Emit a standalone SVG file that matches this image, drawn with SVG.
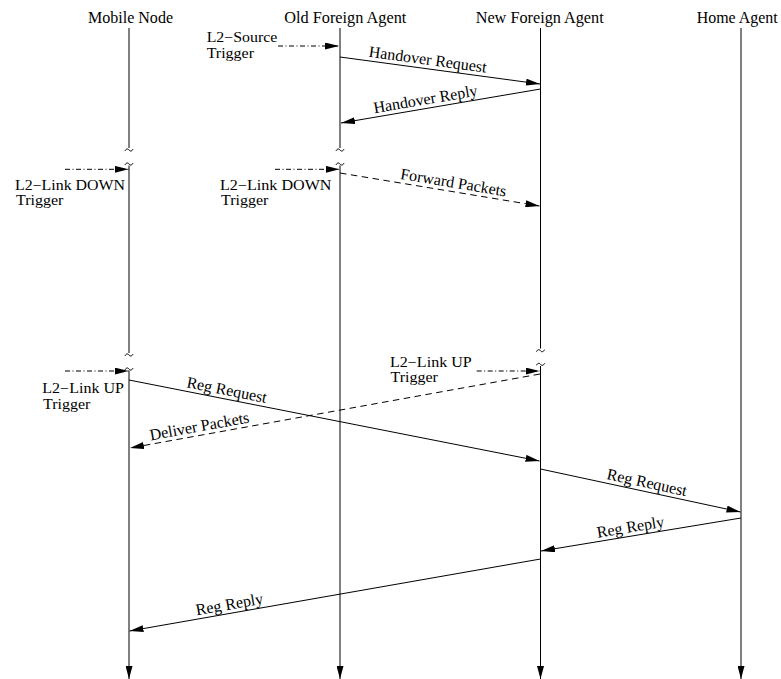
<svg xmlns="http://www.w3.org/2000/svg" width="781" height="679" viewBox="0 0 781 679">
  <style>
    text { font-family: "Liberation Serif", "Times New Roman", serif; font-size: 16px; fill: #000; }
    .tl { font-size: 14px; }
    .life { stroke: #000; stroke-width: 1; fill: none; }
    .msg { stroke: #000; stroke-width: 1; fill: none; marker-end: url(#ah); }
    .dash { stroke-dasharray: 6.5 4.5; }
    .trig { stroke: #000; stroke-width: 1; fill: none; stroke-dasharray: 5 2.5 1 2.5; marker-end: url(#ah); }
    .brk { stroke: #000; stroke-width: 1; fill: none; }
  </style>
  <defs>
    <marker id="ah" markerUnits="userSpaceOnUse" markerWidth="14" markerHeight="7" viewBox="0 0 14 7" refX="14" refY="3.5" orient="auto">
      <path d="M0,0 L14,3.5 L0,7 z" fill="#000"/>
    </marker>
    <marker id="end" markerUnits="userSpaceOnUse" markerWidth="13" markerHeight="7" viewBox="0 0 13 7" refX="13" refY="3.5" orient="auto">
      <path d="M0,0 L13,3.5 L0,7 z" fill="#000"/>
    </marker>
    <!-- break mark drawn where a lifeline is interrupted -->
    <path id="tilde" class="brk" d="M-4,1 C-3,-1.5 -1,-1.5 0,0 S3,1.5 4,-1"/>
  </defs>

  <!-- Mobile Node -->
  <g id="mobile-node">
    <text x="88" y="23" textLength="85" lengthAdjust="spacingAndGlyphs">Mobile Node</text>
    <line class="life" x1="129" y1="28" x2="129" y2="148"/>
    <use href="#tilde" x="129" y="150"/>
    <use href="#tilde" x="129" y="164"/>
    <line class="life" x1="129" y1="165.5" x2="129" y2="353"/>
    <use href="#tilde" x="129" y="355"/>
    <use href="#tilde" x="129" y="369"/>
    <line class="life" x1="129" y1="370.5" x2="129" y2="679" marker-end="url(#end)"/>
  </g>

  <!-- Old Foreign Agent -->
  <g id="old-foreign-agent">
    <text x="284.3" y="23" textLength="122" lengthAdjust="spacingAndGlyphs">Old Foreign Agent</text>
    <line class="life" x1="340" y1="28" x2="340" y2="148"/>
    <use href="#tilde" x="340" y="150"/>
    <use href="#tilde" x="340" y="164"/>
    <line class="life" x1="340" y1="165.5" x2="340" y2="679" marker-end="url(#end)"/>
  </g>

  <!-- New Foreign Agent -->
  <g id="new-foreign-agent">
    <text x="475.7" y="23" textLength="128" lengthAdjust="spacingAndGlyphs">New Foreign Agent</text>
    <line class="life" x1="540.5" y1="28" x2="540.5" y2="348.5"/>
    <use href="#tilde" x="540.5" y="350.7"/>
    <use href="#tilde" x="540.5" y="364.3"/>
    <line class="life" x1="540.5" y1="366" x2="540.5" y2="679" marker-end="url(#end)"/>
  </g>

  <!-- Home Agent -->
  <g id="home-agent">
    <text x="696.7" y="23" textLength="81" lengthAdjust="spacingAndGlyphs">Home Agent</text>
    <line class="life" x1="741" y1="28" x2="741" y2="679" marker-end="url(#end)"/>
  </g>

  <!-- Layer-2 triggers -->
  <g id="triggers">
    <line class="trig" x1="278" y1="46" x2="339" y2="46"/>
    <text class="tl" x="206.7" y="42" textLength="70.6" lengthAdjust="spacingAndGlyphs">L2−Source</text>
    <text class="tl" x="206.7" y="57.5" textLength="47.3" lengthAdjust="spacingAndGlyphs">Trigger</text>

    <line class="trig" x1="65" y1="169.3" x2="128.5" y2="169.3"/>
    <text class="tl" x="15" y="189.5" textLength="110" lengthAdjust="spacingAndGlyphs">L2−Link DOWN</text>
    <text class="tl" x="16" y="205" textLength="47.3" lengthAdjust="spacingAndGlyphs">Trigger</text>

    <line class="trig" x1="275" y1="169.3" x2="339.5" y2="169.3"/>
    <text class="tl" x="220" y="189.5" textLength="111.5" lengthAdjust="spacingAndGlyphs">L2−Link DOWN</text>
    <text class="tl" x="221" y="205" textLength="47.3" lengthAdjust="spacingAndGlyphs">Trigger</text>

    <line class="trig" x1="65" y1="371" x2="128.5" y2="371"/>
    <text class="tl" x="42.3" y="393" textLength="81.7" lengthAdjust="spacingAndGlyphs">L2−Link UP</text>
    <text class="tl" x="43" y="408.5" textLength="47.3" lengthAdjust="spacingAndGlyphs">Trigger</text>

    <line class="trig" x1="476.7" y1="371" x2="539.5" y2="371"/>
    <text class="tl" x="390" y="366.5" textLength="81.7" lengthAdjust="spacingAndGlyphs">L2−Link UP</text>
    <text class="tl" x="390.5" y="382" textLength="47.3" lengthAdjust="spacingAndGlyphs">Trigger</text>
  </g>

  <!-- Messages between the entities -->
  <g id="connectors">
    <line class="msg" x1="340" y1="57" x2="540" y2="84"/>
    <text transform="translate(426.5,68.7) rotate(7.69)" y="-4" text-anchor="middle">Handover Request</text>

    <line class="msg" x1="540.5" y1="89" x2="341" y2="123"/>
    <text transform="translate(427,108.3) rotate(-9.7)" y="-4" text-anchor="middle">Handover Reply</text>

    <line class="msg dash" x1="340" y1="173" x2="539.5" y2="206"/>
    <text transform="translate(452,191.6) rotate(9.4)" y="-4" text-anchor="middle">Forward Packets</text>

    <line class="msg" x1="129" y1="380" x2="539.5" y2="461"/>
    <text transform="translate(225,399) rotate(11.2)" y="-4" text-anchor="middle">Reg Request</text>

    <line class="msg dash" x1="540" y1="374" x2="130" y2="448"/>
    <text transform="translate(201,435.3) rotate(-10.3)" y="-4" text-anchor="middle">Deliver Packets</text>

    <line class="msg" x1="540.5" y1="469" x2="740.5" y2="512"/>
    <text transform="translate(645,491.5) rotate(12.2)" y="-4" text-anchor="middle">Reg Request</text>

    <line class="msg" x1="741" y1="518" x2="541" y2="551"/>
    <text transform="translate(632,536.1) rotate(-9.4)" y="-4" text-anchor="middle">Reg Reply</text>

    <line class="msg" x1="540.5" y1="559" x2="129.5" y2="631"/>
    <text transform="translate(231,613.4) rotate(-10)" y="-4" text-anchor="middle">Reg Reply</text>
  </g>
</svg>
